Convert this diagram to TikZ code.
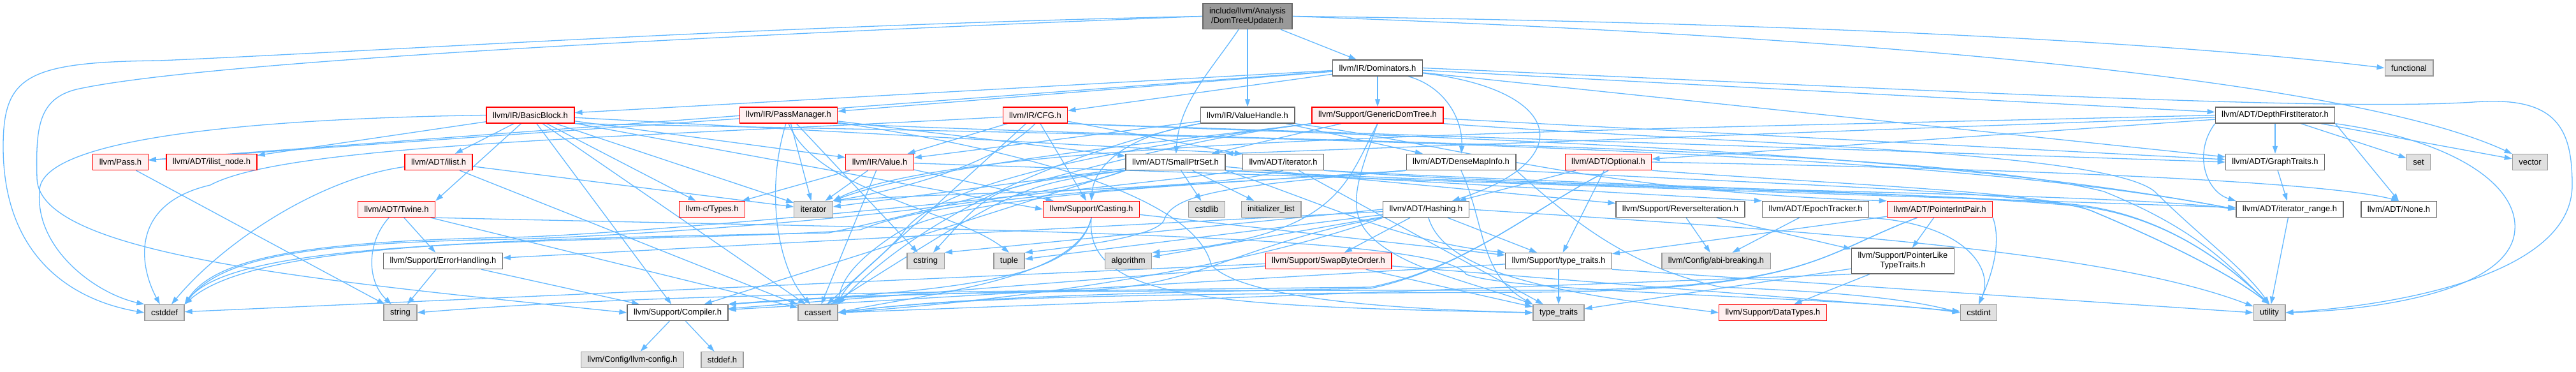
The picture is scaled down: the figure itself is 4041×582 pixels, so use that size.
\documentclass[tikz,border=0pt]{standalone}
\usepackage{fontspec}
\setmainfont{Liberation Sans}[Ligatures=CommonOff]
\usetikzlibrary{arrows.meta, backgrounds}

\definecolor{incblue}{HTML}{63B8FF}
\definecolor{truncfill}{HTML}{FFF0F0}
\definecolor{sysfill}{HTML}{E0E0E0}
\definecolor{grayforty}{HTML}{666666}
\definecolor{graysixty}{HTML}{999999}

\begin{document}
\begin{tikzpicture}[
    x=1pt, y=-1pt,
    hnode/.style={draw, line width=1.3pt, minimum height=25pt, inner xsep=10pt,
                  inner ysep=6.5pt, align=center, font=\fontsize{13}{15}\selectfont},
    hroot/.style={hnode,  fill=graysixty, draw=grayforty},
    hplain/.style={hnode, fill=white,     draw=grayforty},
    htrunc/.style={hnode, fill=truncfill, draw=red},
    hsys/.style={hnode,   fill=sysfill,   draw=graysixty},
    incl/.style={-{Triangle[length=12pt, width=8pt]}, line width=1.3pt, draw=incblue},
]
\useasboundingbox (0,0) rectangle (4041,582);

% Grid layout (pixels, y grows downwards)
% rows : 25=header, 107, 180, 254, 328, 409, 490, 564

\node[hroot]  at (1957, 25.5) (root) {include/llvm/Analysis\\/DomTreeUpdater.h};

\node[hplain] at (2161, 106.5) (dom)        {llvm/IR/Dominators.h};
\node[hsys]   at (3779, 106.5) (functional) {functional};

\node[htrunc] at (832,  180.5) (bb)  {llvm/IR/BasicBlock.h};
\node[htrunc] at (1237, 180.5) (pm)  {llvm/IR/PassManager.h};
\node[htrunc] at (1624, 180.5) (cfg) {llvm/IR/CFG.h};
\node[hplain] at (1957, 180.5) (vh)  {llvm/IR/ValueHandle.h};
\node[htrunc] at (2161, 180.5) (gdt) {llvm/Support/GenericDomTree.h};
\node[hplain] at (3569, 180.5) (dfi) {llvm/ADT/DepthFirstIterator.h};

\node[htrunc] at (189,  254) (pass)   {llvm/Pass.h};
\node[htrunc] at (332,  254) (ilnode) {llvm/ADT/ilist\_node.h};
\node[htrunc] at (688,  254) (ilist)  {llvm/ADT/ilist.h};
\node[htrunc] at (1380, 254) (value)  {llvm/IR/Value.h};
\node[hplain] at (1844, 254) (spset)  {llvm/ADT/SmallPtrSet.h};
\node[hplain] at (2013, 254) (iter)   {llvm/ADT/iterator.h};
\node[hplain] at (2292, 254) (dmi)    {llvm/ADT/DenseMapInfo.h};
\node[htrunc] at (2523, 254) (opt)    {llvm/ADT/Optional.h};
\node[hplain] at (3569, 254) (gt)     {llvm/ADT/GraphTraits.h};
\node[hsys]   at (3794, 254) (set)    {set};
\node[hsys]   at (3969, 254) (vector) {vector};

\node[htrunc] at (622,  328) (twine)    {llvm/ADT/Twine.h};
\node[htrunc] at (1117, 328) (ctypes)   {llvm-c/Types.h};
\node[hsys]   at (1276, 328) (iterator) {iterator};
\node[htrunc] at (1712, 328) (casting)  {llvm/Support/Casting.h};
\node[hsys]   at (1893, 328) (cstdlib)  {cstdlib};
\node[hsys]   at (1994, 328) (initlist) {initializer\_list};
\node[hplain] at (2237, 328) (hashing)  {llvm/ADT/Hashing.h};
\node[hplain] at (2636, 328) (revit)    {llvm/Support/ReverseIteration.h};
\node[hplain] at (2848, 328) (epoch)    {llvm/ADT/EpochTracker.h};
\node[htrunc] at (3043, 328) (pip)      {llvm/ADT/PointerIntPair.h};
\node[hplain] at (3592, 328) (itrange)  {llvm/ADT/iterator\_range.h};
\node[hplain] at (3763, 328) (none)     {llvm/ADT/None.h};

\node[hplain] at (695,  409) (errh)      {llvm/Support/ErrorHandling.h};
\node[hsys]   at (1452, 409) (cstring)   {cstring};
\node[hsys]   at (1583, 409) (tuple)     {tuple};
\node[hsys]   at (1770, 409) (algorithm) {algorithm};
\node[htrunc] at (2084, 409) (swap)      {llvm/Support/SwapByteOrder.h};
\node[hplain] at (2445, 409) (typetr)    {llvm/Support/type\_traits.h};
\node[hsys]   at (2692, 409) (abi)       {llvm/Config/abi-breaking.h};
\node[hplain] at (2985, 409) (pltt)      {llvm/Support/PointerLike\\TypeTraits.h};

\node[hsys]   at (258,  490) (cstddef)   {cstddef};
\node[hsys]   at (628,  490) (string)    {string};
\node[hplain] at (1063, 490) (compiler)  {llvm/Support/Compiler.h};
\node[hsys]   at (1283, 490) (cassert)   {cassert};
\node[hsys]   at (2445, 490) (stdtt)     {type\_traits};
\node[htrunc] at (2781, 490) (datatypes) {llvm/Support/DataTypes.h};
\node[hsys]   at (3104, 490) (cstdint)   {cstdint};
\node[hsys]   at (3560, 490) (utility)   {utility};

\node[hsys]   at (992,  564) (llvmconfig) {llvm/Config/llvm-config.h};
\node[hsys]   at (1133, 564) (stddefh)    {stddef.h};

\begin{scope}[on background layer]
% DomTreeUpdater.h
\path (root) edge[incl] (dom) edge[incl] (vh);
\draw[incl] (root) .. controls (1900,110) and (1850,160) .. (spset);
\draw[incl] (root.east) .. controls (2800,35) and (3400,65) .. (functional.west);
\draw[incl] (root.east) .. controls (3000,60) and (3700,130) .. (vector);
\draw[incl] (root.west) .. controls (1200,40) and (600,80) .. (250,95)
    .. controls (40,97) and (5,120) .. (5,230) .. controls (5,400) and (110,470) .. (cstddef.west);
\draw[incl] (root.west) .. controls (1000,60) and (300,100) .. (120,140)
    .. controls (60,155) and (56,200) .. (58,280) .. controls (62,400) and (500,440) .. (compiler.west);

% Dominators.h
\path (dom) edge[incl] (gdt) edge[incl] (bb) edge[incl] (pm) edge[incl] (cfg)
            edge[incl] (pass) edge[incl] (dfi) edge[incl] (gt);
\draw[incl] (dom) .. controls (2265,135) and (2295,185) .. (dmi);
\draw[incl] (dom) .. controls (2450,140) and (2480,250) .. (hashing);
\draw[incl] (dom.east) .. controls (3000,140) and (3650,175) .. (3880,160)
    .. controls (4010,150) and (4035,200) .. (4035,290) .. controls (4035,420) and (3800,475) .. (utility.east);

% ValueHandle.h
\path (vh) edge[incl] (dmi) edge[incl] (value);
\draw[incl] (vh.south west) .. controls (1750,215) and (1715,270) .. (casting.north);
\draw[incl] (vh.south east) .. controls (2300,230) and (2500,300) .. (pip.north west);
\draw[incl] (vh.south west) .. controls (1700,230) and (1450,330) .. (cassert.north east);

% GenericDomTree.h
\path (gdt) edge[incl] (gt) edge[incl] (spset);
\draw[incl] (gdt.south) .. controls (2110,290) and (2100,370) .. (algorithm.north east);
\draw[incl] (gdt.south west) .. controls (1800,225) and (1450,260) .. (iterator.north east);
\draw[incl] (gdt.south west) .. controls (1800,225) and (1480,280) .. (1420,360)
    .. controls (1390,400) and (1330,440) .. (cassert.north east);
\draw[incl] (gdt.south west) .. controls (1800,225) and (1600,300) .. (1300,365)
    .. controls (800,375) and (400,380) .. (cstddef.north east);
\draw[incl] (gdt.south) .. controls (2130,280) and (2110,330) .. (2150,370)
    .. controls (2200,420) and (2300,440) .. (stdtt.north west);
\draw[incl] (gdt.south east) .. controls (2700,225) and (3300,235) .. (3380,300)
    .. controls (3450,370) and (3520,420) .. (utility.north);

% DepthFirstIterator.h
\path (dfi) edge[incl] (gt) edge[incl] (opt) edge[incl] (set) edge[incl] (vector);
\draw[incl] (dfi) -- (spset.north east);
\draw[incl] (dfi.west) .. controls (2500,205) and (1500,215) .. (iterator.north east);
\draw[incl] (dfi.south east) -- (none.north);
\draw[incl] (dfi.south west) .. controls (3440,240) and (3460,300) .. (itrange.north west);
\draw[incl] (dfi.south east) .. controls (3850,220) and (3950,290) .. (3945,360)
    .. controls (3940,450) and (3750,485) .. (utility.east);

% BasicBlock.h
\path (bb) edge[incl] (ilist) edge[incl] (ilnode) edge[incl] (value) edge[incl] (ctypes)
           edge[incl] (compiler) edge[incl] (cassert) edge[incl] (iterator);
\draw[incl] (bb) -- (iter.north west);
\draw[incl] (bb) -- (twine.north east);
\draw[incl] (bb) -- (casting.west);
\draw[incl] (bb.south east) .. controls (2000,215) and (3000,230) .. (itrange.west);
\draw[incl] (bb.west) .. controls (450,185) and (60,210) .. (62,300)
    .. controls (55,390) and (150,460) .. (cstddef.north west);

% PassManager.h
\path (pm) edge[incl] (pass) edge[incl] (spset) edge[incl] (cstring) edge[incl] (iterator);
\draw[incl] (pm.south) .. controls (1280,300) and (1500,330) .. (tuple.north);
\draw[incl] (pm) .. controls (1200,300) and (1220,420) .. (cassert);
\draw[incl] (pm) .. controls (1700,250) and (1880,330) .. (1900,415)
    .. controls (1950,470) and (2200,485) .. (stdtt.west);
\draw[incl] (pm.south east) .. controls (2000,225) and (3000,225) .. (3300,300)
    .. controls (3450,360) and (3500,420) .. (utility.north);

% CFG.h
\path (cfg) edge[incl] (value) edge[incl] (casting) edge[incl] (cassert) edge[incl] (iter);
\draw[incl] (cfg.south east) -- (gt.west);
\draw[incl] (cfg.south) .. controls (1560,260) and (1400,300) .. (iterator.north east);
\draw[incl] (cfg.south east) .. controls (2200,215) and (3000,230) .. (itrange.west);
\draw[incl] (cfg) .. controls (1000,215) and (450,225) .. (330,290)
    .. controls (200,320) and (220,420) .. (cstddef);

% Pass.h, ilist.h, Value.h
\draw[incl] (pass) -- (string);
\path (ilist) edge[incl] (cassert) edge[incl] (iterator);
\draw[incl] (ilist) .. controls (500,280) and (350,380) .. (cstddef);
\path (value) edge[incl] (ctypes) edge[incl] (casting) edge[incl] (cassert)
              edge[incl] (iterator) edge[incl] (itrange);

% SmallPtrSet.h
\path (spset) edge[incl] (revit) edge[incl] (cstdlib) edge[incl] (initlist) edge[incl] (iterator);
\draw[incl] (spset.south west) -- (compiler);
\draw[incl] (spset.south west) .. controls (1600,290) .. (cassert);
\draw[incl] (spset.south west) .. controls (1560,290) .. (cstring);
\draw[incl] (spset.south east) -- (epoch.north west);
\draw[incl] (spset.south east) .. controls (2080,320) and (2200,380) .. (typetr.north west);
\draw[incl] (spset.south east) .. controls (2500,295) and (3000,300) .. (3250,320)
    .. controls (3400,335) and (3500,420) .. (utility.north);
\draw[incl] (spset.south west) .. controls (1600,330) and (1000,370) .. (800,375)
    .. controls (500,380) and (350,400) .. (cstddef.north east);

% iterator.h
\path (iter) edge[incl] (stdtt);
\draw[incl] (iter.south) .. controls (1900,300) and (1500,300) .. (iterator.north east);
\draw[incl] (iter.south east) .. controls (2500,300) and (3300,300) .. (itrange.west);
\draw[incl] (iter.south east) .. controls (2500,290) and (3000,300) .. (3250,322)
    .. controls (3400,335) and (3500,420) .. (utility.north);
\draw[incl] (iter.south west) .. controls (1700,300) and (1000,368) .. (800,372)
    .. controls (500,378) and (340,400) .. (cstddef.north east);

% DenseMapInfo.h
\draw[incl] (dmi.south) .. controls (2330,350) and (2320,430) .. (stdtt.north west);
\draw[incl] (dmi.south west) .. controls (1950,290) and (1840,300) .. (1826,345)
    .. controls (1815,370) and (1700,385) .. (tuple.north east);
\draw[incl] (dmi.south west) .. controls (1900,290) and (1500,300) .. (1400,370)
    .. controls (1340,410) and (1320,440) .. (cassert.north east);
\draw[incl] (dmi.south west) .. controls (1900,290) and (1500,300) .. (1350,360)
    .. controls (1000,385) and (380,360) .. (cstddef.north east);
\draw[incl] (dmi.south east) .. controls (2470,350) and (2560,420) .. (2700,450)
    .. controls (2900,458) and (3000,470) .. (cstdint.west);
\draw[incl] (dmi.south east) .. controls (2800,290) and (3200,300) .. (3280,330)
    .. controls (3400,380) and (3500,430) .. (utility.north);

% Optional.h
\path (opt) edge[incl] (hashing) edge[incl] (typetr);
\draw[incl] (opt.east) .. controls (3200,265) and (3650,285) .. (none.north);
\draw[incl] (opt.south) .. controls (2400,330) and (2300,420) .. (2150,450)
    .. controls (1700,455) and (1400,458) .. (compiler.north east);
\draw[incl] (opt.south) .. controls (2400,330) and (2300,420) .. (2150,452)
    .. controls (1800,458) and (1500,465) .. (cassert.east);
\draw[incl] (opt.south east) .. controls (2900,290) and (3200,300) .. (3280,330)
    .. controls (3400,380) and (3500,430) .. (utility.north);

% GraphTraits.h, Twine.h
\draw[incl] (gt) -- (itrange);
\path (twine) edge[incl] (errh) edge[incl] (cassert);
\draw[incl] (twine) .. controls (575,380) and (575,440) .. (string);
\draw[incl] (twine.south east) .. controls (1500,360) and (2260,365) .. (2300,430)
    .. controls (2380,460) and (2900,465) .. (cstdint.west);

% Casting.h
\path (casting) edge[incl] (typetr);
\draw[incl] (casting.south) .. controls (1690,440) and (1500,455) .. (compiler.north east);
\draw[incl] (casting.south) .. controls (1690,440) and (1450,460) .. (cassert.east);
\draw[incl] (casting.south) .. controls (1700,470) and (1900,480) .. (stdtt.west);

% Hashing.h
\path (hashing) edge[incl] (swap) edge[incl] (typetr) edge[incl] (errh)
                edge[incl] (algorithm) edge[incl] (tuple);
\draw[incl] (hashing.west) -- (cstring.north east);
\draw[incl] (hashing) .. controls (2270,440) and (2500,465) .. (datatypes.west);
\draw[incl] (hashing.south west) .. controls (1950,420) and (1600,470) .. (cassert.east);
\draw[incl] (hashing.south west) .. controls (1950,380) and (1880,450) .. (1700,455)
    .. controls (1200,460) and (900,470) .. (string.east);
\draw[incl] (hashing.east) .. controls (2800,360) and (3300,390) .. (utility);

% ReverseIteration.h, EpochTracker.h, PointerIntPair.h
\path (revit) edge[incl] (abi) edge[incl] (pltt);
\draw[incl] (epoch) -- (abi);
\draw[incl] (epoch.south east) .. controls (3080,350) and (3130,420) .. (cstdint.north);
\path (pip) edge[incl] (pltt) edge[incl] (typetr);
\draw[incl] (pip.south east) .. controls (3140,380) and (3125,430) .. (cstdint.north);
\draw[incl] (pip) .. controls (2850,400) and (2840,455) .. (2400,455)
    .. controls (1800,455) and (1400,455) .. (compiler.north east);
\draw[incl] (pip) .. controls (2850,400) and (2840,455) .. (2400,458)
    .. controls (1800,460) and (1500,465) .. (cassert.east);

% lower rows
\draw[incl] (itrange) -- (utility);
\path (errh) edge[incl] (compiler) edge[incl] (string);
\path (swap) edge[incl] (compiler) edge[incl] (cstddef) edge[incl] (cstdint) edge[incl] (stdtt);
\path (typetr) edge[incl] (stdtt) edge[incl] (compiler);
\draw[incl] (typetr.south east) -- (utility.west);
\path (pltt) edge[incl] (datatypes) edge[incl] (stdtt);
\draw[incl] (pltt.south west) -- (cassert.east);
\path (compiler) edge[incl] (llvmconfig) edge[incl] (stddefh);
\end{scope}
\end{tikzpicture}
\end{document}
